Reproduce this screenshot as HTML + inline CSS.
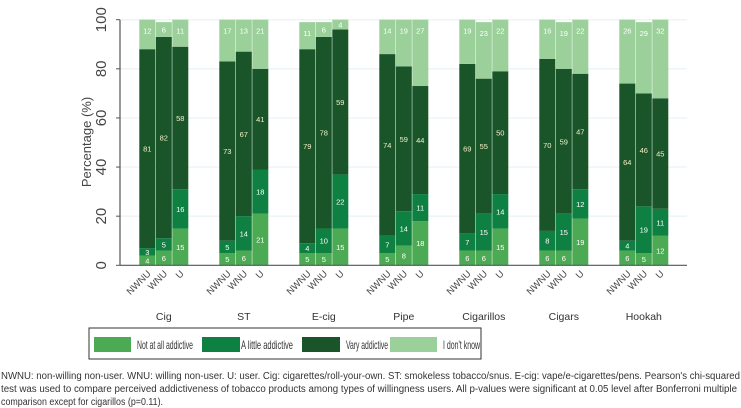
<!DOCTYPE html>
<html><head><meta charset="utf-8"><style>
body{margin:0;background:#fff;}
svg{display:block;font-family:"Liberation Sans",sans-serif;}
</style></head><body>
<svg id="chart" width="741" height="408" viewBox="0 0 741 408" xmlns="http://www.w3.org/2000/svg">
<g id="grid"></g>
<g id="bars"></g>
<g id="axes"></g>
<g id="legend">
  <rect x="89" y="328" width="392" height="31" fill="#fff" stroke="#333" stroke-width="1"/>
  <rect x="94" y="337" width="37" height="15" fill="#4caa54"/>
  <text x="137" y="349" font-size="12" fill="#333" textLength="56" lengthAdjust="spacingAndGlyphs">Not at all addictive</text>
  <rect x="202" y="337" width="38" height="15" fill="#0d8042"/>
  <text x="241" y="349" font-size="12" fill="#333" textLength="52" lengthAdjust="spacingAndGlyphs">A little addictive</text>
  <rect x="302" y="337" width="38" height="15" fill="#1a552a"/>
  <text x="346" y="349" font-size="12" fill="#333" textLength="42" lengthAdjust="spacingAndGlyphs">Vary addictive</text>
  <rect x="390" y="337" width="47" height="15" fill="#9bd09b"/>
  <text x="443" y="349" font-size="12" fill="#333" textLength="37" lengthAdjust="spacingAndGlyphs">I don't know</text>
</g>
<g font-size="10" fill="#333">
  <text x="1" y="379" textLength="739" lengthAdjust="spacingAndGlyphs">NWNU: non-willing non-user. WNU: willing non-user. U: user. Cig: cigarettes/roll-your-own. ST: smokeless tobacco/snus. E-cig: vape/e-cigarettes/pens. Pearson's chi-squared</text>
  <text x="1" y="392" textLength="736" lengthAdjust="spacingAndGlyphs">test was used to compare perceived addictiveness of tobacco products among types of willingness users. All p-values were significant at 0.05 level after Bonferroni multiple</text>
  <text x="1" y="405" textLength="162" lengthAdjust="spacingAndGlyphs">comparison except for cigarillos (p=0.11).</text>
</g>
</svg>
<script>
const products = ["Cig","ST","E-cig","Pipe","Cigarillos","Cigars","Hookah"];
const userTypes = ["NWNU","WNU","U"];
const notAtAll = [[4,6,15],[5,6,21],[5,5,15],[5,8,18],[6,6,15],[6,6,19],[6,5,12]];
const aLittle  = [[3,5,16],[5,14,18],[4,10,22],[7,14,11],[7,15,14],[8,15,12],[4,19,11]];
const vary     = [[81,82,58],[73,67,41],[79,78,59],[74,59,44],[69,55,50],[70,59,47],[64,46,45]];
const dontKnow = [[12,6,11],[17,13,21],[11,6,4],[14,19,27],[19,23,22],[16,19,22],[26,29,32]];
const yTicks = [0,20,40,60,80,100];

const NS="http://www.w3.org/2000/svg";
const x0=120,x1=687,yBase=265.3,yTop=19.7;
const yScale=v=>yBase-(yBase-yTop)*v/100;
const groupStart=g=>139.3+g*80;
const barX=(g,i)=>groupStart(g)+i*16.5;
const bw=16;
function mk(tag,attrs,parent){const e=document.createElementNS(NS,tag);for(const k in attrs)e.setAttribute(k,attrs[k]);parent.appendChild(e);return e;}
const grid=document.getElementById('grid'),bars=document.getElementById('bars'),axes=document.getElementById('axes');

yTicks.forEach(t=>{
  if(t>0){const l=mk('line',{x1:x0,x2:x1,y1:yScale(t),y2:yScale(t),stroke:'#e3eff4','stroke-width':1},grid);
  
  }
  const tx=mk('text',{x:0,y:0,transform:`translate(106,${yScale(t)}) rotate(-90)`,'text-anchor':'middle','font-size':15,fill:'#444'},axes);
  tx.textContent=t;
  
  
  const tk=mk('line',{x1:x0-4,x2:x0,y1:yScale(t),y2:yScale(t),stroke:'#555'},axes);
  
  
});
const yt=mk('text',{x:0,y:0,transform:`translate(91,142) rotate(-90)`,'text-anchor':'middle','font-size':13,fill:'#444'},axes);
yt.textContent='Percentage (%)';


const ya=mk('line',{x1:x0,x2:x0,y1:yTop,y2:yBase,stroke:'#555','stroke-width':1.2},axes);


const xa=mk('line',{x1:x0,x2:x1,y1:yBase,y2:yBase,stroke:'#555','stroke-width':1.2},axes);



const series=[notAtAll,aLittle,vary,dontKnow];
const colors=['#4caa54','#0d8042','#1a552a','#9bd09b'];
const labelColors=['#fff','#fff','#f3f0c8','#fff'];
const sNames=['not-at-all','a-little','vary','dont-know'];
products.forEach((p,g)=>{
  userTypes.forEach((u,i)=>{
    let cum=0;
    series.forEach((s,k)=>{
      const v=s[g][i];
      const top=Math.min(cum+v,100);
      const ya_=yScale(top),yb=yScale(cum);
      const r=mk('rect',{x:barX(g,i),y:ya_,width:bw,height:Math.max(0,yb-ya_),fill:colors[k]},bars);
      
      
      const ly = k===3 ? ya_+Math.min((yb-ya_)/2,11)+3 : (ya_+yb)/2+3;
      const t=mk('text',{x:barX(g,i)+bw/2,y:ly,'text-anchor':'middle','font-size':7.5,fill:labelColors[k]},bars);
      t.textContent=v;
      
      
      cum+=v;
    });
    const cx=barX(g,i)+bw/2+4;
    const tl=mk('text',{x:0,y:0,transform:`translate(${cx},${yBase+9}) rotate(-45)`,'text-anchor':'end','font-size':9.5,fill:'#444'},axes);
    tl.textContent=u;
    
    
  });
  const gl=mk('text',{x:groupStart(g)+24.5,y:320,'text-anchor':'middle','font-size':10.5,fill:'#333'},axes);
  gl.textContent=p;
  
  
});
</script>
</body></html>
